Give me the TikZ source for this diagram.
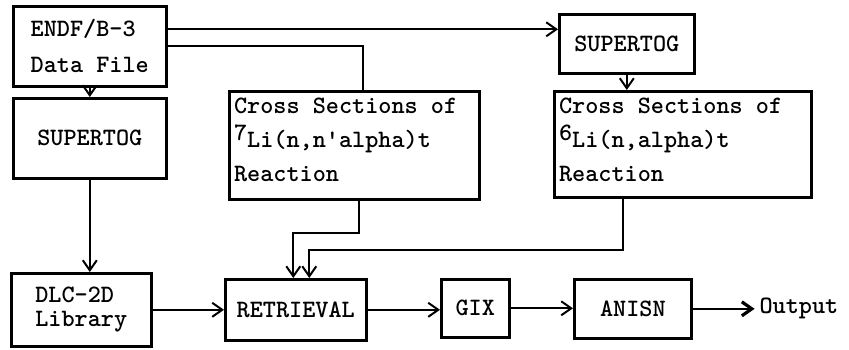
\documentclass[tikz,border=0pt]{standalone}
\usepackage{fontspec}
\usepackage{tikz}
\usetikzlibrary{arrows.meta, positioning}

\begin{document}
\begin{tikzpicture}[x=0.5pt, y=-0.5pt, line width=1pt,
        every node/.style={font=\ttfamily\bfseries\fontsize{12.5}{17}\selectfont, inner sep=2pt},
        box/.style={draw, rectangle, line width=1.3pt, anchor=north west},
        arr/.style={-{Straight Barb[length=5pt, width=7pt]}}]
        \useasboundingbox (0,0) rectangle (849,349);
        \node (endf) [box, minimum width=76.5pt, minimum height=40pt, align=left] at (12,5) {ENDF/B-3\\[1pt]Data File};
        \node (sup1) [box, minimum width=76.5pt, minimum height=40pt] at (12,97) {SUPERTOG};
        \node (dlc) [box, minimum width=70pt, minimum height=36.5pt, align=left, font=\ttfamily\bfseries\fontsize{12.5}{12}\selectfont] at (10,272) {DLC-2D\\Library};
        \node (li7) [box, minimum width=125pt, minimum height=54pt] at (228,90) {};
        \node (li7txt) [anchor=north west, align=left, inner sep=0pt] at ([xshift=2.5pt, yshift=-3.5pt]li7.north west) {Cross Sections of\\\raisebox{3.5pt}{7}Li(n,n'alpha)t\\Reaction};
        \node (sup2) [box, minimum width=67.5pt, minimum height=29.5pt] at (558,13) {SUPERTOG};
        \node (li6) [box, minimum width=128.5pt, minimum height=53pt] at (553,90) {};
        \node (li6txt) [anchor=north west, align=left, inner sep=0pt] at ([xshift=2.5pt, yshift=-3.5pt]li6.north west) {Cross Sections of\\\raisebox{3.5pt}{6}Li(n,alpha)t\\Reaction};
        \node (ret) [box, minimum width=70.5pt, minimum height=30.5pt] at (224,278) {RETRIEVAL};
        \node (gix) [box, minimum width=34pt, minimum height=29pt] at (440,278) {GIX};
        \node (anisn) [box, minimum width=58.5pt, minimum height=29.5pt] at (573,278) {ANISN};
        \node (out) [right=31pt of anisn] {Output};

        \draw[arr] ([yshift=8.5pt]endf.east) -- ([yshift=8.5pt]endf.east -| sup2.west);
        \draw (endf.east) -| ([xshift=4.5pt]li7.north);
        \draw[arr] (endf.south) -- (sup1.north);
        \draw[arr] (sup1.south) -- (sup1.south |- dlc.north);
        \draw[arr] (sup2.south) -- (sup2.south |- li6.north);
        \draw[arr] ([xshift=2.5pt]li7.south) -- ++(0,-16pt) -| ([xshift=-1.25pt]ret.north);
        \draw[arr] ([xshift=-29.75pt]li6.south) -- ++(0,-25.5pt) -| ([xshift=6.75pt]ret.north);
        \draw[arr] (dlc.east) -- (ret.west);
        \draw[arr] (ret.east) -- (ret.east -| gix.west);
        \draw[arr] (gix.east) -- (gix.east -| anisn.west);
        \draw[-{Straight Barb[length=5pt, width=7pt, line width=1.6pt]}] (anisn.east) -- (out.west);
    \end{tikzpicture}
\end{document}
